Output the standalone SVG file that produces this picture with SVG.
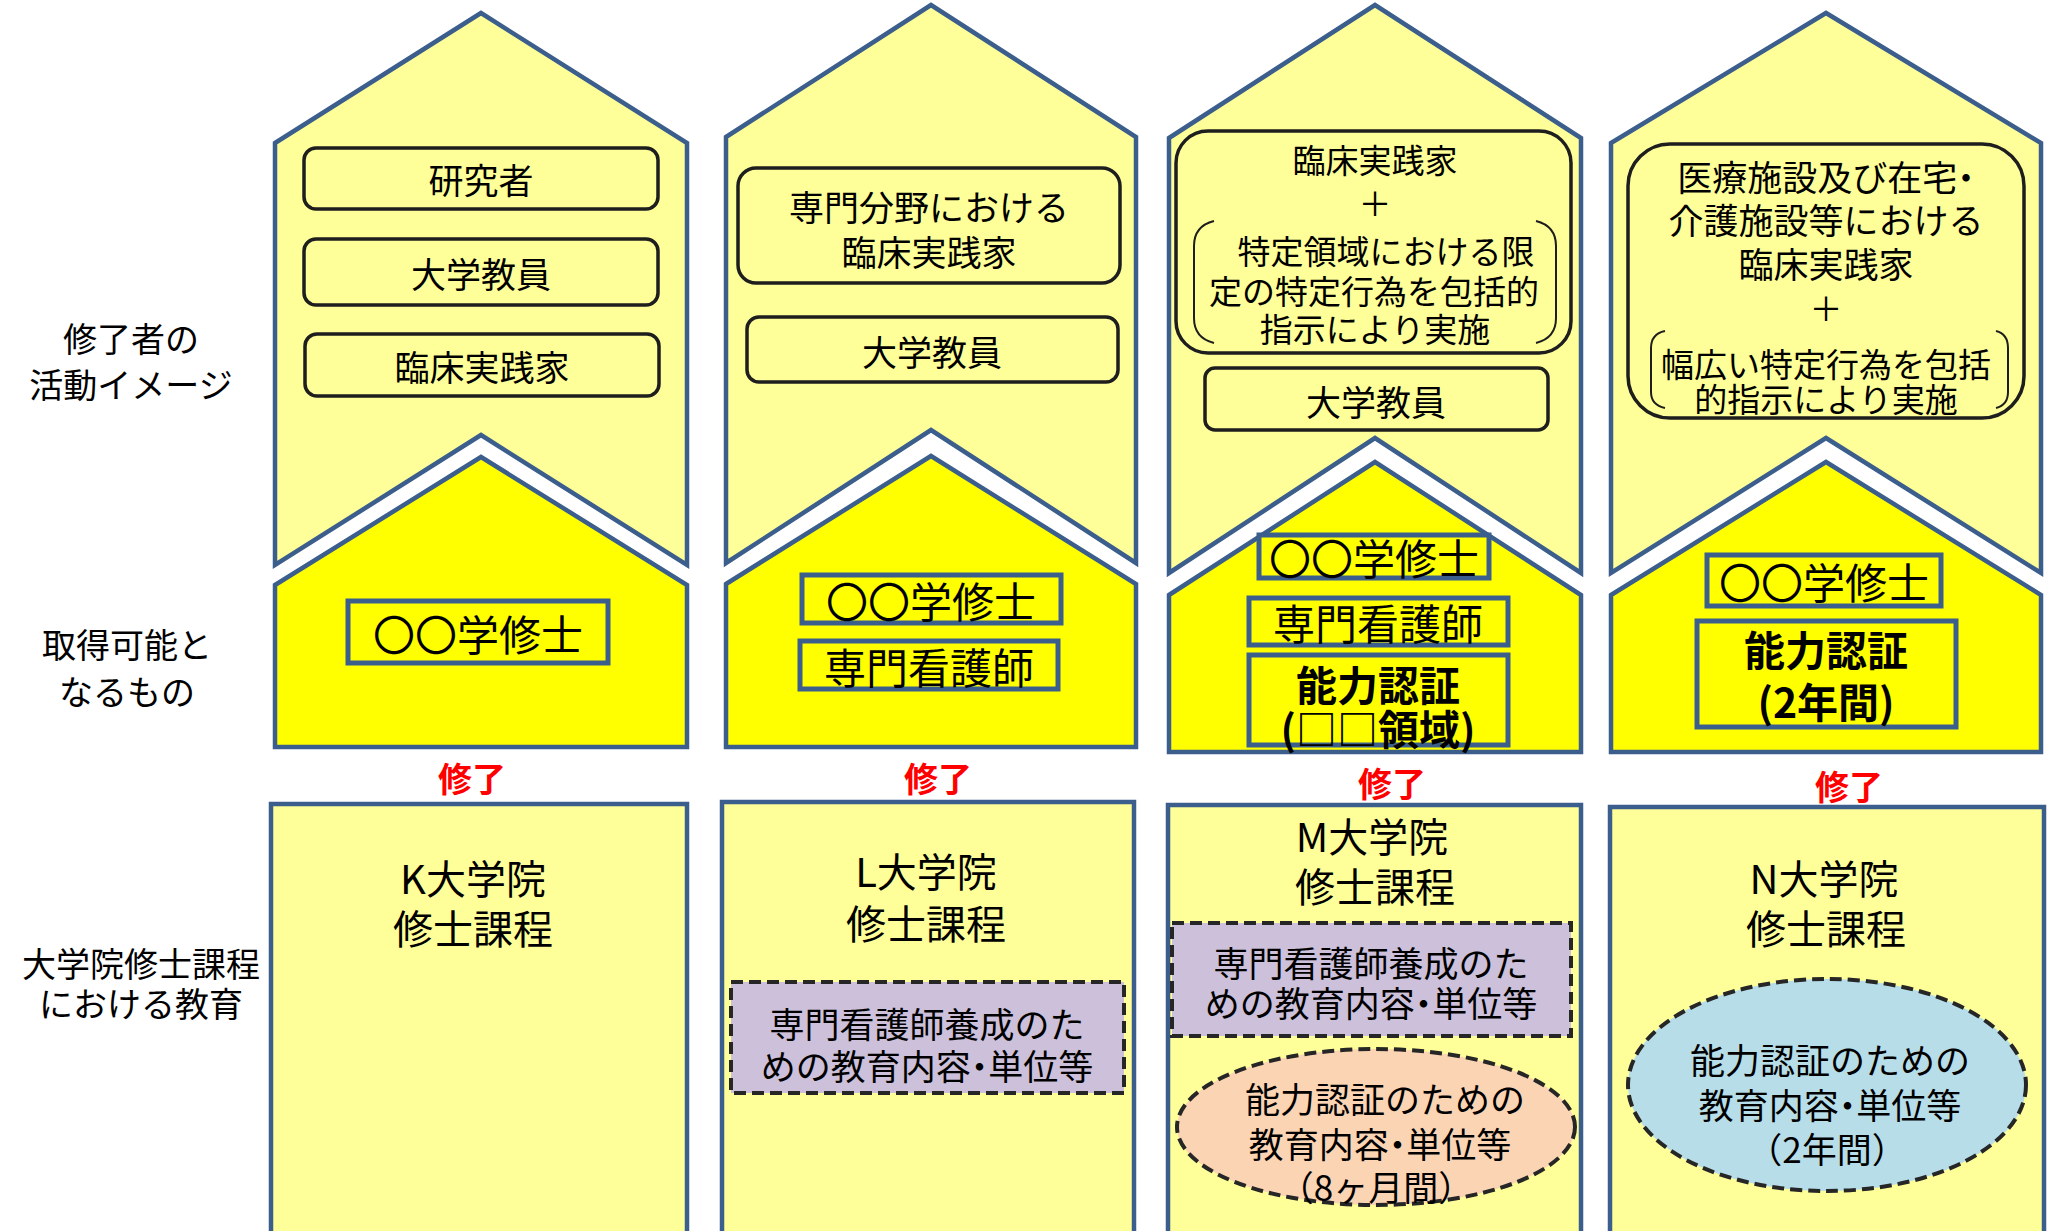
<svg xmlns="http://www.w3.org/2000/svg" width="2054" height="1231" viewBox="0 0 2054 1231">
<style>
.up{fill:#FFFF99;stroke:#3B5E8C;stroke-width:4.5;stroke-linejoin:miter}
.lo{fill:#FFFF00;stroke:#3B5E8C;stroke-width:4.5;stroke-linejoin:miter}
.bx{fill:#FFFF99;stroke:#3B5E8C;stroke-width:4.5}
.rb{fill:#FFFF99;stroke:#1E1E1E;stroke-width:3.5}
.qb{fill:#FFFF00;stroke:#3B5E8C;stroke-width:5}
.db{fill:#CCC0DA;stroke:#262626;stroke-width:4;stroke-dasharray:12 6}
.br{fill:none;stroke:#1E1E1E;stroke-width:2}
text{font-family:"Noto Sans CJK JP","Noto Sans CJK SC",sans-serif;fill:#000;text-anchor:middle;dominant-baseline:central}
.p{font-feature-settings:"palt"}
.lb{font-size:34px}
.t36{font-size:35px}
.t33{font-size:33px}
.t42{font-size:42px}
.b42{font-size:41px;font-weight:bold}
.t40{font-size:40px}
.red{font-size:34px;font-weight:bold;fill:#FF0000}
</style>

<g id="row-labels">
<text class="lb" x="131" y="337">修了者の</text>
<text class="lb" x="131" y="383">活動イメージ</text>
<text class="lb" x="127" y="643">取得可能と</text>
<text class="lb" x="127" y="690">なるもの</text>
<text class="lb" x="141" y="962">大学院修士課程</text>
<text class="lb" x="141" y="1002">における教育</text>
</g>

<g id="connectors"></g>

<g id="col-K">
<path class="up" d="M275,143 L481,13 L687,143 L687,565 L481,435 L275,565 Z"/>
<path class="lo" d="M275,585 L481,457 L687,585 L687,747 L275,747 Z"/>
<rect class="bx" x="271" y="804" width="416" height="440"/>
<rect class="rb" x="304" y="148" width="354" height="61" rx="12"/>
<text class="t36" x="481" y="178">研究者</text>
<rect class="rb" x="304" y="239" width="354" height="66" rx="12"/>
<text class="t36" x="481" y="272">大学教員</text>
<rect class="rb" x="305" y="334" width="354" height="62" rx="12"/>
<text class="t36" x="482" y="365">臨床実践家</text>
<rect class="qb" x="348" y="601" width="260" height="62"/>
<text class="t42" x="478" y="632">〇〇学修士</text>
<text class="red" x="472" y="777">修了</text>
<text class="t40" x="473" y="877">K大学院</text>
<text class="t40" x="473" y="927">修士課程</text>
</g>

<g id="col-L">
<path class="up" d="M726,137 L931,5 L1136,137 L1136,563 L931,430 L726,563 Z"/>
<path class="lo" d="M726,584 L931,456 L1136,584 L1136,747 L726,747 Z"/>
<rect class="bx" x="722" y="802" width="412" height="440"/>
<rect class="rb" x="738" y="168" width="382" height="115" rx="18"/>
<text class="t36" x="929" y="205">専門分野における</text>
<text class="t36" x="929" y="250">臨床実践家</text>
<rect class="rb" x="747" y="317" width="371" height="65" rx="12"/>
<text class="t36" x="932" y="350">大学教員</text>
<rect class="qb" x="802" y="575" width="259" height="48"/>
<text class="t42" x="931" y="599">〇〇学修士</text>
<rect class="qb" x="800" y="641" width="258" height="48"/>
<text class="t42" x="929" y="665">専門看護師</text>
<text class="red" x="938" y="777">修了</text>
<text class="t40" x="926" y="870">L大学院</text>
<text class="t40" x="926" y="922">修士課程</text>
<rect class="db" x="731" y="982" width="393" height="111"/>
<text class="t36" x="927" y="1022">専門看護師養成のた</text>
<text class="t36" x="927" y="1064">めの教育内容<tspan class="p">・</tspan>単位等</text>
</g>

<g id="col-M">
<path class="up" d="M1169,138 L1375,5 L1581,138 L1581,573 L1375,438 L1169,573 Z"/>
<path class="lo" d="M1169,595 L1375,462 L1581,595 L1581,752 L1169,752 Z"/>
<rect class="bx" x="1168" y="805" width="413" height="440"/>
<rect class="rb" x="1176" y="131" width="395" height="222" rx="32"/>
<text class="t33" x="1375" y="159">臨床実践家</text>
<text class="t33" x="1375" y="202">＋</text>
<path class="br" d="M1214,221 Q1194,226 1194,246 L1194,318 Q1194,338 1214,343"/>
<path class="br" d="M1536,221 Q1556,226 1556,246 L1556,318 Q1556,338 1536,343"/>
<text class="t33" x="1386" y="250">特定領域における限</text>
<text class="t33" x="1374" y="290">定の特定行為を包括的</text>
<text class="t33" x="1375" y="328">指示により実施</text>
<rect class="rb" x="1205" y="368" width="343" height="62" rx="10"/>
<text class="t36" x="1376" y="400">大学教員</text>
<rect class="qb" x="1259" y="535" width="230" height="43"/>
<text class="t42" x="1374" y="556">〇〇学修士</text>
<rect class="qb" x="1249" y="598" width="259" height="47"/>
<text class="t42" x="1378" y="621">専門看護師</text>
<rect class="qb" x="1249" y="655" width="259" height="90"/>
<text class="b42" x="1378" y="683">能力認証</text>
<text class="b42" x="1378" y="727">(□□領域)</text>
<text class="red" x="1392" y="782">修了</text>
<text class="t40" x="1372" y="835">M大学院</text>
<text class="t40" x="1375" y="885">修士課程</text>
<rect class="db" x="1172" y="923" width="399" height="113"/>
<text class="t36" x="1371" y="961">専門看護師養成のた</text>
<text class="t36" x="1371" y="1001">めの教育内容<tspan class="p">・</tspan>単位等</text>
<ellipse class="db" cx="1376" cy="1127" rx="199" ry="78" style="fill:#FBD4B4"/>
<text class="t36" x="1385" y="1097">能力認証のための</text>
<text class="t36" x="1380" y="1142">教育内容<tspan class="p">・</tspan>単位等</text>
<text class="t36" x="1376" y="1185">（8ヶ月間）</text>
</g>

<g id="col-N">
<path class="up" d="M1611,143 L1826,13 L2041,143 L2041,573 L1826,438 L1611,573 Z"/>
<path class="lo" d="M1611,595 L1826,462 L2041,595 L2041,752 L1611,752 Z"/>
<rect class="bx" x="1610" y="807" width="434" height="440"/>
<rect class="rb" x="1628" y="144" width="396" height="274" rx="42"/>
<text class="t36" x="1826" y="175">医療施設及び在宅<tspan class="p">・</tspan></text>
<text class="t36" x="1826" y="218">介護施設等における</text>
<text class="t36" x="1826" y="262">臨床実践家</text>
<text class="t33" x="1826" y="307">＋</text>
<path class="br" d="M1665,331 Q1651,334 1651,348 L1651,392 Q1651,405 1665,408"/>
<path class="br" d="M1996,331 Q2008,334 2008,348 L2008,392 Q2008,405 1996,408"/>
<text class="t33" x="1826" y="363">幅広い特定行為を包括</text>
<text class="t33" x="1826" y="398">的指示により実施</text>
<rect class="qb" x="1707" y="555" width="234" height="51"/>
<text class="t42" x="1824" y="580">〇〇学修士</text>
<rect class="qb" x="1697" y="621" width="259" height="106"/>
<text class="b42" x="1826" y="648">能力認証</text>
<text class="b42" x="1826" y="700">(2年間)</text>
<text class="red" x="1849" y="785">修了</text>
<text class="t40" x="1824" y="877">N大学院</text>
<text class="t40" x="1826" y="927">修士課程</text>
<ellipse class="db" cx="1827" cy="1085" rx="199" ry="106" style="fill:#B7DDE8"/>
<text class="t36" x="1830" y="1058">能力認証のための</text>
<text class="t36" x="1830" y="1103">教育内容<tspan class="p">・</tspan>単位等</text>
<text class="t36" x="1827" y="1147">（2年間）</text>
</g>
</svg>
